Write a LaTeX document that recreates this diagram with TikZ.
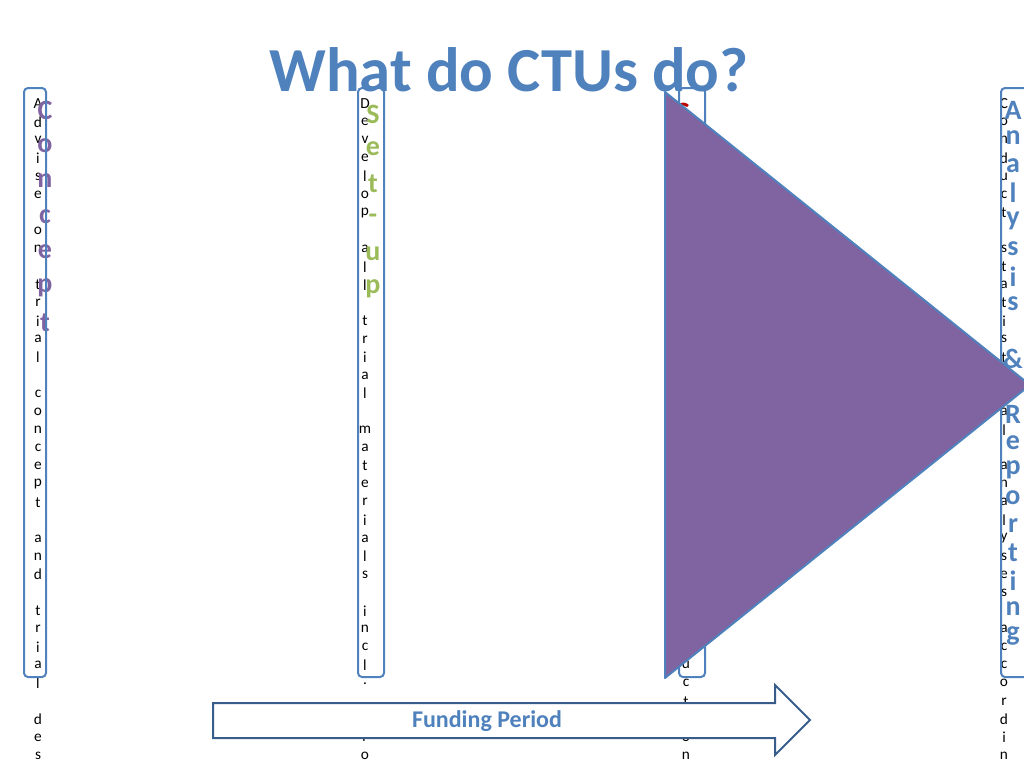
\documentclass[tikz,border=0pt]{standalone}
\usepackage{fontspec}
\setmainfont{Carlito}
\definecolor{tblue}{HTML}{4F81BD}
\definecolor{tpurple}{HTML}{8064A2}
\definecolor{tgreen}{HTML}{9BBB59}
\definecolor{dblue}{HTML}{385D8A}
\begin{document}
\begin{tikzpicture}[x=0.75pt,y=-0.75pt,
  small/.style={font=\fontsize{11.5}{12}\selectfont,text=black,inner sep=0},
  big/.style={font=\bfseries\fontsize{21}{22}\selectfont,inner sep=0},
  col/.style={draw=tblue,line width=1.5pt,rounded corners=3pt}]
\useasboundingbox (0,0) rectangle (1024,768);
\node[font=\bfseries\fontsize{47}{52}\selectfont,text=tblue] (title) at (509,70) {What do CTUs do?};
% column 1
\foreach \c [count=\i from 0] in {A,d,v,i,s,e,{},o,n,{},t,r,i,a,l,{},c,o,n,c,e,p,t,{},a,n,d,{},t,r,i,a,l,{},d,e,s}
  \node[small] (a\i) at (38,{104+\i*18.1}) {\c};
\foreach \c [count=\i from 0] in {C,o,n,c,e,p,t}
  \node[big,text=tpurple] (ab\i) at (45,{110+\i*35.5}) {\c};
% column 2
\foreach \c [count=\i from 0] in {D,e,v,e,l,o,p,{},a,l,l,{},t,r,i,a,l,{},m,a,t,e,r,i,a,l,s,{},i,n,c,l,.,{},p,r,o}
  \node[small] (b\i) at (365,{104+\i*18.1}) {\c};
\foreach \c [count=\i from 0] in {S,e,t,-,u,p}
  \node[big,text=tgreen] (bb\i) at (373,{114+\i*35}) {\c};
% column 3
\node[big,text=red!75!black] (cb0) at (682,112) {C};
\foreach \c/\i in {u/31,c/32,t/33,i/34,o/35,n/36}
  \node[small] (c\i) at (686,{104+\i*18.1}) {\c};
% column 4
\foreach \c [count=\i from 0] in {C,o,n,d,u,c,t,{},s,t,a,t,i,s,t,i,c,a,l,{},a,n,a,l,y,s,e,s,{},a,c,c,o,r,d,i,n}
  \node[small] (d\i) at (1004,{104+\i*18.1}) {\c};
\foreach \c [count=\i from 0] in {A,n,a,l,y,s,i,s,{},\&,{},R,e,p,o,r,t,i,n,g}
  \node[big,text=tblue] (db\i) at (1013,{110+\i*27.7}) {\c};
% boxes
\draw[col] (24,88) rectangle (46,677);
\draw[col] (358,88) rectangle (384,677);
\draw[col] (679,88) rectangle (705,677);
\draw[col] (1001,88) rectangle (1030,677);
% triangle
\coordinate (t1) at (665,92);
\coordinate (t2) at (1030,385);
\coordinate (t3) at (665,678);
\draw[fill=tpurple,draw=tblue,line width=1.5pt,line join=round] (t1) -- (t2) -- (t3) -- cycle;
% funding arrow
\draw[fill=white,draw=dblue,line width=1.5pt] (213,703) -- (775,703) -- (775,685) -- (810,720) -- (775,755) -- (775,738) -- (213,738) -- cycle;
\node[font=\bfseries\fontsize{18}{20}\selectfont,text=tblue] (fp) at (487,721) {Funding Period};
\end{tikzpicture}
\end{document}
